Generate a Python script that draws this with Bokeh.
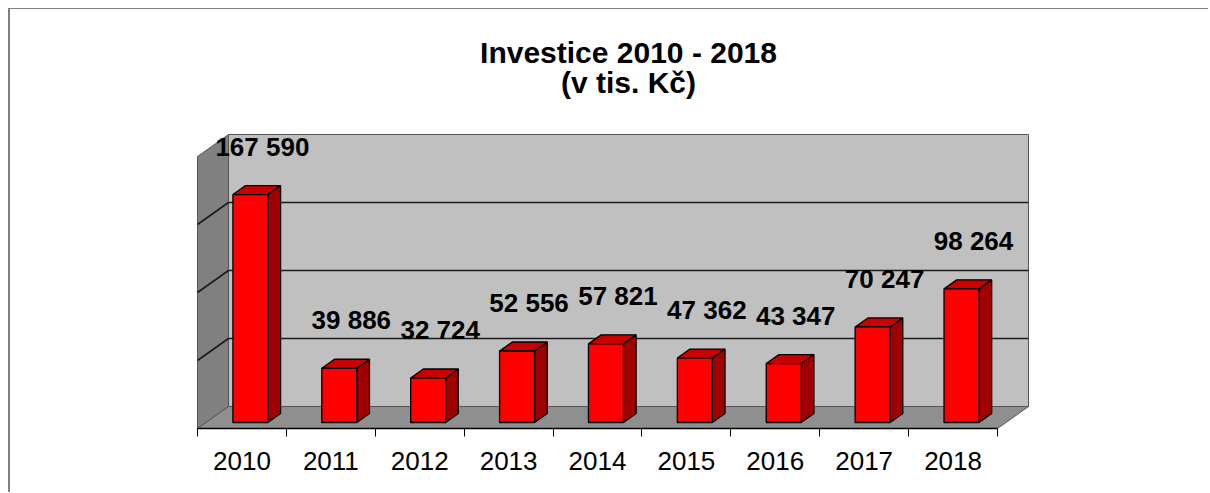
from bokeh.plotting import figure
from bokeh.models import Range1d, FixedTicker, Label
from bokeh.embed import file_html
from bokeh.resources import INLINE
from bokeh.core.properties import value

# ---------------- data ----------------
years = ["2010", "2011", "2012", "2013", "2014", "2015", "2016", "2017", "2018"]
investice = [167590, 39886, 32724, 52556, 57821, 47362, 43347, 70247, 98264]
grid_values = [50000, 100000, 150000]
axis_max = 200000
title_line1 = "Investice 2010 - 2018"
title_line2 = "(v tis. Kč)"

labels = [f"{v:,}".replace(",", " ") for v in investice]
n = len(years)

# ---------------- layout ----------------
W, H = 1200, 484
ML, MR, MT, MB = 169, 137, 0, 65
FW = W - ML - MR
FH = H - MT - MB
PX_X = 800 / 9.0                 # px per category
V_PER_PX = axis_max / 272.0      # value units per px
X0 = -0.5 - 18 / PX_X
X1 = X0 + FW / PX_X
Y0 = -6 * V_PER_PX               # front floor edge
Y1 = Y0 + FH * V_PER_PX


def dx(px):
    return px / PX_X


def dy(px):
    return px * V_PER_PX


WALL_DX, WALL_DY = dx(31), dy(22)
F_FRONT, F_DEPTH = 6 / 22, 9 / 22
BAR_W = dx(35)
FONT = "Liberation Sans"

p = figure(width=W, height=H, output_backend="svg", toolbar_location=None,
           x_range=Range1d(X0, X1), y_range=Range1d(Y0, Y1),
           y_axis_location=None, title=None,
           min_border_left=ML, min_border_right=MR,
           min_border_top=MT, min_border_bottom=MB,
           background_fill_color="white", border_fill_color="white")
p.outline_line_color = None
p.xgrid.visible = False
p.ygrid.visible = False
p.styles = {"margin-left": "8px", "margin-top": "8px",
            "border-top": "1px solid #808080", "border-left": "2px solid #808080"}

left = -0.5
right = n - 0.5
wall_bottom = Y0 + WALL_DY

# back wall
p.quad(left=[left + WALL_DX], right=[right + WALL_DX], bottom=[wall_bottom],
       top=[wall_bottom + axis_max], fill_color="#c0c0c0", line_color="#555555", line_width=1)
# left wall
p.patch([left, left + WALL_DX, left + WALL_DX, left],
        [Y0, wall_bottom, wall_bottom + axis_max, Y0 + axis_max],
        fill_color="#808080", line_color="#555555", line_width=1)
# floor
p.patch([left, right, right + WALL_DX, left + WALL_DX],
        [Y0, Y0, wall_bottom, wall_bottom],
        fill_color="#8f8f8f", line_color="#555555", line_width=1)

# gridlines
p.segment(x0=[left + WALL_DX] * len(grid_values), x1=[right + WALL_DX] * len(grid_values),
          y0=[wall_bottom + g for g in grid_values], y1=[wall_bottom + g for g in grid_values],
          line_color="#1a1a1a", line_width=1.6)
p.segment(x0=[left] * len(grid_values), x1=[left + WALL_DX] * len(grid_values),
          y0=[Y0 + g for g in grid_values], y1=[wall_bottom + g for g in grid_values],
          line_color="#1a1a1a", line_width=1.6)

# bars
ddx, ddy = F_DEPTH * WALL_DX, F_DEPTH * WALL_DY
centers = [i + F_FRONT * WALL_DX for i in range(n)]
ls = [c - BAR_W / 2 for c in centers]
rs = [c + BAR_W / 2 for c in centers]
top_xs = [[l, r, r + ddx, l + ddx] for l, r in zip(ls, rs)]
top_ys = [[v, v, v + ddy, v + ddy] for v in investice]
side_xs = [[r, r + ddx, r + ddx, r] for r in rs]
side_ys = [[0, ddy, v + ddy, v] for v in investice]
p.patches(side_xs, side_ys, fill_color="#a00000", line_color="black", line_width=1.3)
p.patches(top_xs, top_ys, fill_color="#c80000", line_color="black", line_width=1.3)
p.quad(left=ls, right=rs, bottom=[0] * n, top=investice,
       fill_color="#ff0000", line_color="black", line_width=1.3)

# data labels
p.text(x=centers, y=investice, text=labels, x_offset=12, y_offset=-48,
       text_align="center", text_baseline="alphabetic",
       text_font=value(FONT), text_font_style="bold", text_font_size="26px",
       text_color="black")

# axis
ax = p.xaxis[0]
ax.ticker = FixedTicker(ticks=list(range(n)), minor_ticks=[i - 0.5 for i in range(n + 1)])
ax.major_label_overrides = {i: y for i, y in enumerate(years)}
ax.bounds = (left, right)
ax.axis_line_color = "black"
ax.axis_line_width = 1.3
ax.major_tick_in = 0
ax.major_tick_out = 0
ax.minor_tick_in = 0
ax.minor_tick_out = 8
ax.minor_tick_line_color = "black"
ax.major_label_standoff = 15
ax.major_label_text_font = FONT
ax.major_label_text_font_size = "26px"
ax.major_label_text_color = "black"

# two-line title, positioned in px above the front floor edge
TITLE_X = X0 + 449 / PX_X
for txt, ty in ((title_line1, 376), (title_line2, 346)):
    p.add_layout(Label(x=TITLE_X, y=Y0 + ty * V_PER_PX, text=txt,
                       text_align="center", text_baseline="alphabetic",
                       text_font=FONT, text_font_style="bold",
                       text_font_size="30px", text_color="black"))

open("out.html", "w").write(file_html(p, INLINE))
